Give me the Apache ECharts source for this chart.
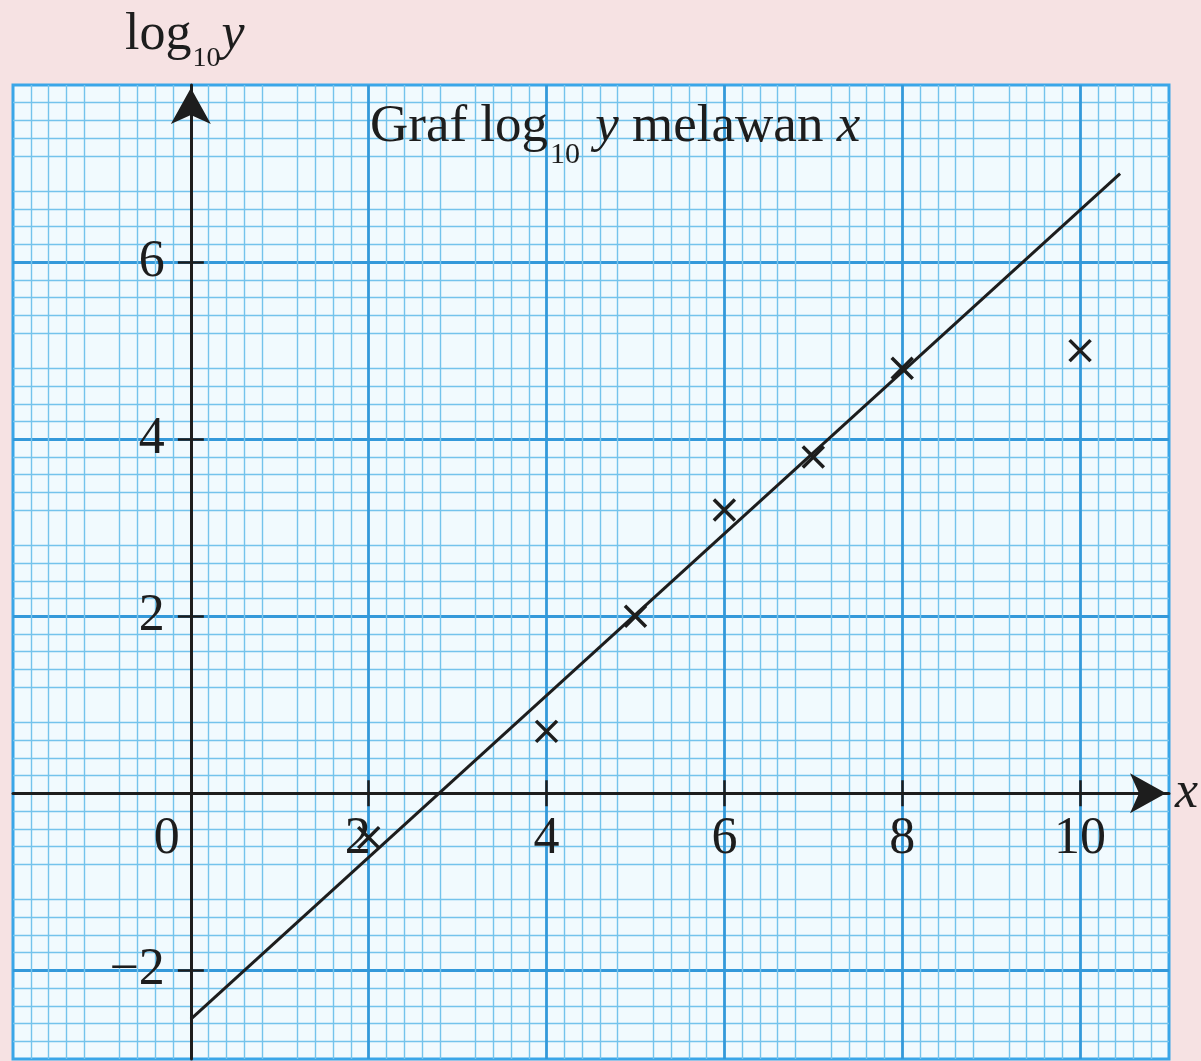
<!DOCTYPE html>
<html>
<head>
<meta charset="utf-8">
<script src="https://cdn.jsdelivr.net/npm/echarts@6/dist/echarts.min.js"></script>
<style>
  html, body { margin: 0; padding: 0; background: #f6e2e3; }
  #chart { width: 1201px; height: 1061px; }
</style>
</head>
<body>
<div id="chart"></div>
<script>
// Axis ranges
const xRange = [-2, 11];
const yRange = [-3, 8];

// Tick and label positions on the two axes
const xTickValues = [2, 4, 6, 8, 10];
const xLabelValues = [0, 2, 4, 6, 8, 10];
const yTickValues = [-2, 2, 4, 6];

// Plotted points (x, log10 y)
const pointX = [2, 4, 5, 6, 7, 8, 10];
const pointY = [-0.5, 0.7, 2.0, 3.2, 3.8, 4.8, 5.0];

// Line of best fit, end points
const fitX = [0, 10.45];
const fitY = [-2.55, 7.0];

const INK = '#1d1d1d';
const SERIF = "'Liberation Serif', 'DejaVu Serif', serif";
const FS = 52;

// Plot area box
const GRID = { left: 13, top: 85, width: 1156, height: 974 };

// The axes cross at the origin: shift them in from the grid edges
const xAxisShift = -(0 - yRange[0]) * GRID.height / (yRange[1] - yRange[0]);
const yAxisShift = -(0 - xRange[0]) * GRID.width / (xRange[1] - xRange[0]);

function tok(extra) {
  return Object.assign({ fontFamily: SERIF, fontWeight: 'normal', color: INK }, extra);
}

const titleRich = {
  n: tok({ fontSize: 53, lineHeight: 60, verticalAlign: 'top' }),
  i: tok({ fontSize: 53, fontStyle: 'italic', lineHeight: 60, verticalAlign: 'top' }),
  s: tok({ fontSize: 30, lineHeight: 30, verticalAlign: 'top', padding: [39, 2, 0, 2] })
};

const nameRich = {
  n: tok({ fontSize: FS, lineHeight: 58, verticalAlign: 'top' }),
  i: tok({ fontSize: FS, fontStyle: 'italic', lineHeight: 58, verticalAlign: 'top' }),
  s: tok({ fontSize: 28, lineHeight: 28, verticalAlign: 'top', padding: [36, 1, 0, 1] })
};

const majorLine = { color: '#3499da', width: 2.8 };
const minorLine = { color: '#74c3ec', width: 1.4 };
const tickLine = { color: INK, width: 2.5 };

function baseAxis(range) {
  return { type: 'value', min: range[0], max: range[1], interval: 1 };
}

const chart = echarts.init(document.getElementById('chart'), null, { renderer: 'canvas' });

chart.setOption({
  backgroundColor: '#f6e2e3',
  animation: false,
  title: {
    text: '{n|Graf log}{s|10}{n| }{i|y}{n| melawan }{i|x}',
    left: 370,
    top: 101,
    padding: 0,
    textStyle: { fontWeight: 'normal', rich: titleRich }
  },
  grid: {
    left: GRID.left, top: GRID.top, width: GRID.width, height: GRID.height,
    containLabel: false,
    outerBoundsMode: 'none',
    show: true,
    backgroundColor: '#f1fafe',
    borderColor: '#3aa6e8',
    borderWidth: 3
  },
  xAxis: [
    Object.assign(baseAxis(xRange), {
      position: 'bottom',
      offset: xAxisShift,
      name: 'x',
      nameLocation: 'end',
      nameGap: 6,
      nameTextStyle: { fontFamily: SERIF, fontSize: FS, fontStyle: 'italic', color: INK, verticalAlign: 'middle', padding: [12, 0, 0, 0] },
      axisLine: {
        show: true, onZero: false,
        symbol: ['none', 'arrow'], symbolSize: [30, 36], symbolOffset: [0, -3],
        lineStyle: { color: INK, width: 3 }
      },
      axisTick: { show: true, customValues: xTickValues, length: 13, lineStyle: tickLine },
      axisLabel: {
        show: true,
        customValues: xLabelValues,
        margin: 20,
        lineHeight: 58,
        formatter: function (v) {
          if (v === 0) return '{z|0}';
          if (v === 2) return '{t|2}';
          return '{d|' + v + '}';
        },
        rich: {
          d: tok({ fontSize: FS, lineHeight: 58, verticalAlign: 'top' }),
          t: tok({ fontSize: FS, lineHeight: 58, verticalAlign: 'top', padding: [0, 22, 0, 0] }),
          z: tok({ fontSize: FS, lineHeight: 38, verticalAlign: 'top', padding: [0, 48, 0, 0] })
        }
      },
      splitLine: { show: true, lineStyle: majorLine },
      minorTick: { show: false, splitNumber: 5 },
      minorSplitLine: { show: true, lineStyle: minorLine },
      z: 3
    }),
    Object.assign(baseAxis(xRange), {
      position: 'bottom',
      offset: xAxisShift,
      axisLine: { show: false, onZero: false },
      axisTick: { show: true, inside: true, customValues: xTickValues, length: 13, lineStyle: tickLine },
      axisLabel: { show: false },
      splitLine: { show: false },
      z: 3
    })
  ],
  yAxis: [
    Object.assign(baseAxis(yRange), {
      position: 'left',
      offset: yAxisShift,
      name: '{n|log}{s|10}{i|y}',
      nameLocation: 'end',
      nameGap: 18,
      nameTextStyle: { rich: nameRich, padding: [0, 12, 0, 0] },
      axisLine: {
        show: true, onZero: false,
        symbol: ['none', 'arrow'], symbolSize: [30, 36], symbolOffset: [0, -3],
        lineStyle: { color: INK, width: 3 }
      },
      axisTick: { show: true, customValues: yTickValues, length: 13, lineStyle: tickLine },
      axisLabel: {
        show: true,
        customValues: yTickValues,
        margin: 26,
        fontFamily: SERIF,
        fontSize: FS,
        color: INK,
        formatter: function (v) { return v < 0 ? '\u2212' + Math.abs(v) : String(v); }
      },
      splitLine: { show: true, lineStyle: majorLine },
      minorTick: { show: false, splitNumber: 5 },
      minorSplitLine: { show: true, lineStyle: minorLine },
      z: 3
    }),
    Object.assign(baseAxis(yRange), {
      position: 'left',
      offset: yAxisShift,
      axisLine: { show: false, onZero: false },
      axisTick: { show: true, inside: true, customValues: yTickValues, length: 13, lineStyle: tickLine },
      axisLabel: { show: false },
      splitLine: { show: false },
      z: 3
    })
  ],
  series: [
    {
      type: 'line',
      xAxisIndex: 0, yAxisIndex: 0,
      data: fitX.map(function (x, k) { return [x, fitY[k]]; }),
      symbol: 'none',
      lineStyle: { color: INK, width: 3 },
      z: 4
    },
    {
      type: 'scatter',
      xAxisIndex: 0, yAxisIndex: 0,
      data: pointX.map(function (x, k) { return [x, pointY[k]]; }),
      symbol: 'path://M0,0L20,20M20,0L0,20',
      symbolSize: 21,
      itemStyle: { color: 'none', borderColor: INK, borderWidth: 3.5, opacity: 1 },
      z: 5
    }
  ]
});
</script>
</body>
</html>
